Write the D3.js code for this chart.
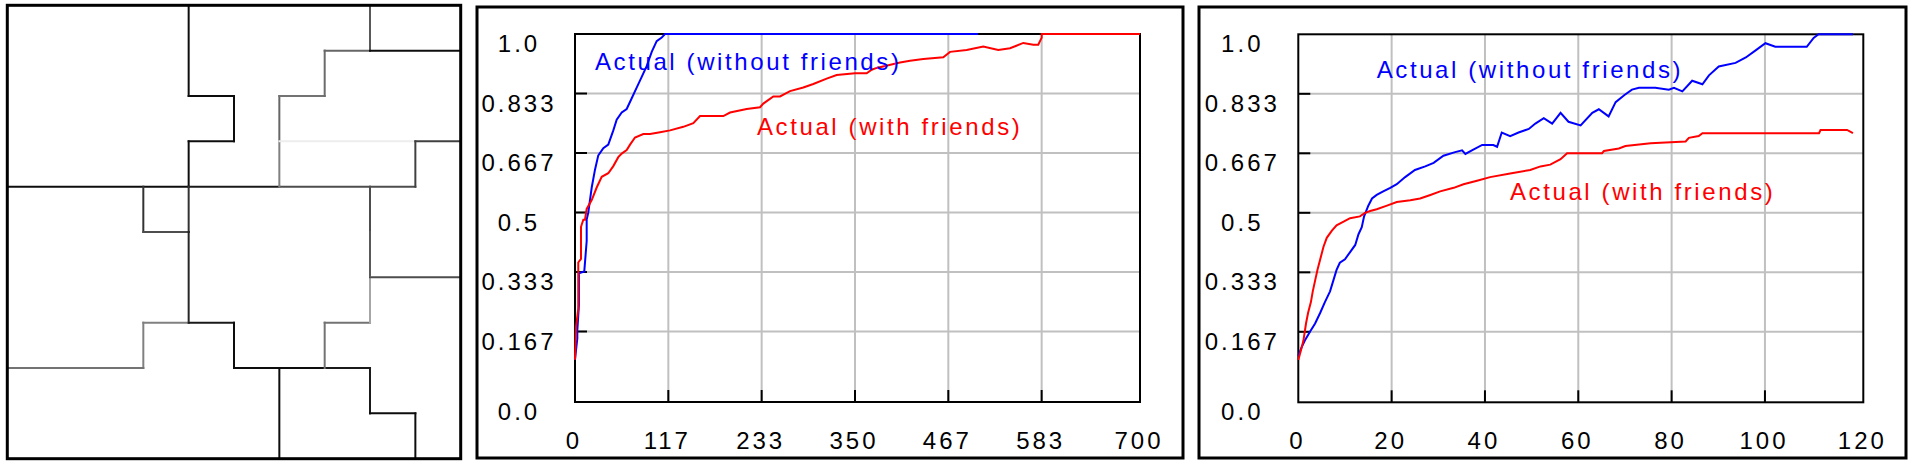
<!DOCTYPE html>
<html>
<head>
<meta charset="utf-8">
<script src="https://cdn.jsdelivr.net/npm/d3@7"></script>
<style>
  html, body { margin: 0; padding: 0; background: #fff; }
  svg { display: block; }
</style>
</head>
<body>
<div id="chart"></div>
<script>
// maze walls on a 10x10 grid: [col1, row1, col2, row2, shade (0 black .. 1 white)]
const mazeWalls = [
  [4, 0, 4, 2, 0.05], [4, 2, 5, 2, 0.05], [5, 2, 5, 3, 0.05], [4, 3, 5, 3, 0.05],
  [4, 3, 4, 4, 0.05], [0, 4, 4, 4, 0.05], [4, 4, 6, 4, 0.1], [6, 4, 9, 4, 0.3],
  [6, 2, 6, 3, 0.4], [6, 3, 6, 4, 0.5], [6, 2, 7, 2, 0.45], [7, 1, 7, 2, 0.42],
  [7, 1, 8, 1, 0.4], [8, 0, 8, 1, 0.35], [8, 1, 10, 1, 0.05], [6, 3, 9, 3, 0.93],
  [9, 3, 10, 3, 0.25], [9, 3, 9, 4, 0.25], [3, 4, 3, 5, 0.2], [3, 5, 4, 5, 0.3],
  [4, 4, 4, 5, 0.2], [4, 5, 4, 7, 0.15], [3, 7, 4, 7, 0.5], [3, 7, 3, 8, 0.5],
  [0, 8, 3, 8, 0.45], [4, 7, 5, 7, 0.1], [5, 7, 5, 8, 0.05], [5, 8, 7, 8, 0.05],
  [7, 8, 8, 8, 0.1], [7, 7, 7, 8, 0.45], [7, 7, 8, 7, 0.45], [8, 4, 8, 5, 0.3],
  [8, 5, 8, 6, 0.35], [8, 6, 8, 7, 0.65], [8, 6, 10, 6, 0.3], [6, 8, 6, 10, 0.05],
  [8, 8, 8, 9, 0.1], [8, 9, 9, 9, 0.05], [9, 9, 9, 10, 0.05]
];

const yTicks = [0, 0.1667, 0.3333, 0.5, 0.6667, 0.8333, 1];
const yTickLabels = ['0.0', '0.167', '0.333', '0.5', '0.667', '0.833', '1.0'];
const longTicks = [0, 116.67, 233.33, 350, 466.67, 583.33, 700];
const longTickLabels = ['0', '117', '233', '350', '467', '583', '700'];
const shortTicks = [0, 20, 40, 60, 80, 100, 120];
const shortTickLabels = ['0', '20', '40', '60', '80', '100', '120'];

// long run (0..700)
const longWithout = [
  [0, 0.10], [2.9, 0.15], [2.9, 0.17], [4.9, 0.24], [4.9, 0.33], [11.6, 0.335], [14.6, 0.42],
  [14.6, 0.48], [16.6, 0.50], [20.9, 0.57], [25, 0.62], [29.1, 0.66], [35.4, 0.68], [41.6, 0.69],
  [47.9, 0.73], [52.1, 0.76], [58.4, 0.78], [64.6, 0.79], [70.9, 0.82], [77.1, 0.85], [83.4, 0.88],
  [89.6, 0.91], [95.9, 0.95], [102.1, 0.98], [108.4, 0.99], [112.5, 1.0], [504, 1.0]
];
const longWith = [
  [0, 0.10], [1.25, 0.18], [4.1, 0.23], [4.1, 0.36], [7.5, 0.37], [7.5, 0.46], [10.4, 0.48],
  [12.5, 0.48], [14.6, 0.51], [20.9, 0.535], [27.1, 0.57], [33.4, 0.60], [41.6, 0.61], [47.9, 0.63],
  [54.1, 0.655], [58.4, 0.665], [64.6, 0.675], [68.8, 0.69], [75, 0.71], [85.4, 0.72], [93.8, 0.72],
  [106.3, 0.725], [118.8, 0.73], [135.4, 0.74], [147.9, 0.75], [156.3, 0.77], [185.4, 0.77],
  [193.8, 0.78], [214.6, 0.79], [231.3, 0.795], [235.4, 0.805], [247.9, 0.825], [256.3, 0.825],
  [268.8, 0.84], [285.4, 0.85], [297.9, 0.86], [314.6, 0.875], [327.1, 0.885], [350, 0.89],
  [364.6, 0.89], [370.9, 0.90], [377.1, 0.905], [406.3, 0.92], [418.8, 0.925], [435.4, 0.93],
  [460.4, 0.935], [468.8, 0.95], [489.6, 0.955], [510.4, 0.965], [529.1, 0.955], [543.8, 0.96],
  [560.4, 0.975], [572.9, 0.97], [579.1, 0.97], [583.4, 0.99], [583.4, 1.0], [700, 1.0]
];

// short run (0..120)
const shortWithout = [
  [0, 0.11], [0.7, 0.13], [1.4, 0.146], [2.5, 0.167], [3.6, 0.19], [4.7, 0.22], [5.7, 0.25],
  [6.8, 0.28], [7.5, 0.31], [8.2, 0.34], [8.9, 0.36], [10, 0.37], [11.1, 0.39], [12.2, 0.41],
  [12.9, 0.44], [13.6, 0.46], [14.1, 0.49], [15, 0.52], [15.8, 0.54], [16.8, 0.55], [18.2, 0.56],
  [19.7, 0.57], [21.1, 0.58], [22.9, 0.60], [25, 0.62], [27.2, 0.63], [29, 0.64], [31.1, 0.66],
  [33.6, 0.67], [35.1, 0.675], [35.8, 0.665], [37.2, 0.675], [39.4, 0.69], [40.8, 0.69],
  [41.8, 0.69], [42.6, 0.685], [43.6, 0.725], [45.4, 0.715], [47.2, 0.725], [49.4, 0.735],
  [50.8, 0.75], [52.6, 0.765], [54.4, 0.75], [56.2, 0.78], [57.9, 0.755], [60.5, 0.745],
  [63, 0.78], [64.4, 0.79], [66.5, 0.77], [68, 0.81], [69.9, 0.83], [71.5, 0.845], [73, 0.85],
  [76.5, 0.85], [79.4, 0.845], [80.5, 0.85], [82.3, 0.84], [84.4, 0.87], [86.6, 0.86],
  [88, 0.885], [90.1, 0.91], [93.7, 0.92], [95.9, 0.935], [98, 0.955], [100.1, 0.975],
  [102.1, 0.965], [108.5, 0.965], [109.9, 0.99], [110.9, 1.0], [117.9, 1.0]
];
const shortWith = [
  [0, 0.10], [0.5, 0.12], [1.1, 0.146], [1.65, 0.19], [2.1, 0.22], [2.7, 0.25], [3.1, 0.28],
  [3.6, 0.31], [4.1, 0.34], [4.7, 0.37], [5.4, 0.405], [6.1, 0.43], [7.2, 0.45], [8.2, 0.465],
  [9.7, 0.475], [11.1, 0.485], [13.2, 0.49], [14.3, 0.50], [15.4, 0.505], [16.8, 0.51], [19, 0.52],
  [21.1, 0.53], [24, 0.535], [26.1, 0.54], [28.3, 0.55], [30.4, 0.56], [33.3, 0.57], [35.4, 0.58],
  [38.3, 0.59], [41.1, 0.60], [45.4, 0.61], [49.7, 0.62], [51.9, 0.63], [54, 0.635], [56.2, 0.65],
  [57.6, 0.667], [65.1, 0.667], [65.5, 0.673], [68.7, 0.68], [70.1, 0.687], [75.5, 0.695],
  [83, 0.70], [83.7, 0.71], [85.8, 0.715], [86.6, 0.723], [111, 0.723], [111.3, 0.732],
  [116.7, 0.732], [117.9, 0.723]
];

const W = 1913, H = 463;
const FONT = '"Liberation Sans", Arial, sans-serif';
const svg = d3.select('#chart').append('svg').attr('width', W).attr('height', H);

// ---- maze panel
const mx = d3.scaleLinear().domain([0, 10]).range([7.3, 460.7]);
const my = d3.scaleLinear().domain([0, 10]).range([5.3, 458.7]);
const shade = d3.scaleLinear().domain([0, 1]).range(['#000', '#fff']);
const maze = svg.append('g');
maze.selectAll('line').data(mazeWalls).join('line')
  .attr('x1', d => mx(d[0])).attr('y1', d => my(d[1]))
  .attr('x2', d => mx(d[2])).attr('y2', d => my(d[3]))
  .attr('stroke', d => shade(d[4]))
  .attr('stroke-width', 2)
  .attr('stroke-linecap', 'square');
maze.append('rect')
  .attr('x', mx(0)).attr('y', my(0))
  .attr('width', mx(10) - mx(0)).attr('height', my(10) - my(0))
  .attr('fill', 'none').attr('stroke', '#000').attr('stroke-width', 3);

// ---- line plots
const plotW = 565, plotH = 368, stepX = 93.33, stepY = 59.5;

function drawPlot(p) {
  svg.append('rect')
    .attr('x', p.frame[0]).attr('y', p.frame[1])
    .attr('width', p.frame[2]).attr('height', p.frame[3])
    .attr('fill', 'none').attr('stroke', '#000').attr('stroke-width', 3);

  const g = svg.append('g').attr('transform', `translate(${p.left},${p.top})`);
  const x = d3.scaleLinear().domain([0, p.ticks[5], p.ticks[6]]).range([0, 5 * stepX, plotW]);
  const y = d3.scaleLinear().domain([0, yTicks[1], 1]).range([plotH, 5 * stepY, 0]);

  // grid
  g.selectAll('.gx').data(p.ticks.slice(1, 6)).join('line')
    .attr('x1', d => x(d)).attr('x2', d => x(d)).attr('y1', 0).attr('y2', plotH)
    .attr('stroke', '#c0c0c0').attr('stroke-width', 2);
  g.selectAll('.gy').data(yTicks.slice(1, 6)).join('line')
    .attr('y1', d => y(d)).attr('y2', d => y(d)).attr('x1', 0).attr('x2', plotW)
    .attr('stroke', '#c0c0c0').attr('stroke-width', 2);

  g.append('rect').attr('width', plotW).attr('height', plotH)
    .attr('fill', 'none').attr('stroke', '#000').attr('stroke-width', 2);

  // small inward tick marks
  g.selectAll('.ty').data(yTicks.slice(1, 6)).join('line')
    .attr('x1', 0).attr('x2', 12).attr('y1', d => y(d)).attr('y2', d => y(d))
    .attr('stroke', '#000').attr('stroke-width', 2);
  g.selectAll('.tx').data(p.ticks.slice(1, 6)).join('line')
    .attr('x1', d => x(d)).attr('x2', d => x(d)).attr('y1', plotH).attr('y2', plotH - 12)
    .attr('stroke', '#000').attr('stroke-width', 2);

  // tick labels via axes
  const ya = g.append('g')
    .call(d3.axisLeft(y).tickValues(yTicks).tickFormat((d, i) => yTickLabels[i]).tickSize(0));
  ya.select('.domain').remove();
  ya.attr('font-family', FONT).attr('font-size', 24).attr('text-anchor', 'middle');
  ya.selectAll('text').attr('x', -56).attr('y', 17.5).attr('dy', null)
    .attr('fill', '#000').attr('letter-spacing', 3);

  const xa = g.append('g').attr('transform', `translate(0,${plotH})`)
    .call(d3.axisBottom(x).tickValues(p.ticks).tickFormat((d, i) => p.labels[i]).tickSize(0));
  xa.select('.domain').remove();
  xa.attr('font-family', FONT).attr('font-size', 24).attr('text-anchor', 'middle');
  xa.selectAll('text').attr('x', -1.5).attr('y', 46.5).attr('dy', null)
    .attr('fill', '#000').attr('letter-spacing', 3);

  // series
  const line = d3.line().x(d => x(d[0])).y(d => y(d[1]));
  g.append('path').datum(p.without).attr('d', line)
    .attr('fill', 'none').attr('stroke', '#0000ff').attr('stroke-width', 2);
  g.append('path').datum(p.with).attr('d', line)
    .attr('fill', 'none').attr('stroke', '#ff0000').attr('stroke-width', 2);

  g.append('text').text('Actual (without friends)')
    .attr('x', p.blueAt[0]).attr('y', p.blueAt[1])
    .attr('font-family', FONT).attr('font-size', 24).attr('letter-spacing', 2.6)
    .attr('fill', '#0000ff');
  g.append('text').text('Actual (with friends)')
    .attr('x', p.redAt[0]).attr('y', p.redAt[1])
    .attr('font-family', FONT).attr('font-size', 24).attr('letter-spacing', 2.6)
    .attr('fill', '#ff0000');
}

drawPlot({
  frame: [477, 7, 706, 451], left: 575, top: 34,
  ticks: longTicks, labels: longTickLabels,
  without: longWithout, with: longWith,
  blueAt: [20, 36], redAt: [182, 101]
});
drawPlot({
  frame: [1199, 7, 707, 451], left: 1298.3, top: 34.3,
  ticks: shortTicks, labels: shortTickLabels,
  without: shortWithout, with: shortWith,
  blueAt: [78.4, 43.7], redAt: [211.7, 165.7]
});
</script>
</body>
</html>
